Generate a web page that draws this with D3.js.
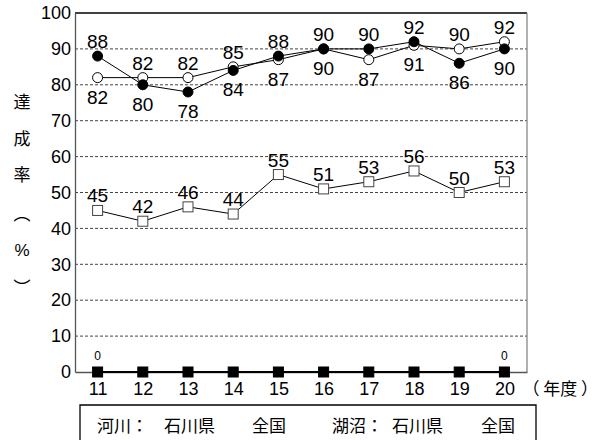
<!DOCTYPE html>
<html>
<head>
<meta charset="utf-8">
<script src="https://cdn.jsdelivr.net/npm/d3@7"></script>
<style>
  body { margin: 0; background: #fff; }
  svg text { font-family: "Liberation Sans", Arial, sans-serif; }
  .cjk { font-family: "Noto Sans CJK JP", sans-serif; }
</style>
</head>
<body>
<div id="chart"></div>
<script>
// years (Heisei)
const years = ["11", "12", "13", "14", "15", "16", "17", "18", "19", "20"];
// 河川 石川県 (filled circle)
const riverPref = [88, 80, 78, 84, 88, 90, 90, 92, 86, 90];
// 河川 全国 (open circle)
const riverNation = [82, 82, 82, 85, 87, 90, 87, 91, 90, 92];
// 湖沼 (open square)
const lakePref = [45, 42, 46, 44, 55, 51, 53, 56, 50, 53];
// 湖沼 (filled square)
const lakeNation = [0, 0, 0, 0, 0, 0, 0, 0, 0, 0];
// label side: 1 = above, -1 = below
const riverPrefPos = [1, -1, -1, -1, 1, 1, 1, 1, -1, -1];
const riverNationPos = [-1, 1, 1, 1, -1, -1, -1, -1, 1, 1];
const yTicks = [0, 10, 20, 30, 40, 50, 60, 70, 80, 90, 100];
const legendItems = ["河川：", "石川県", "全国", "湖沼：", "石川県", "全国"];

const width = 602, height = 440;
const margin = {left: 75, right: 75, top: 13, bottom: 68};

const svg = d3.select("#chart").append("svg")
    .attr("width", width)
    .attr("height", height);

const x = d3.scalePoint()
    .domain(years)
    .range([margin.left, width - margin.right])
    .padding(0.5);
const y = d3.scaleLinear()
    .domain([0, 100])
    .range([height - margin.bottom, margin.top]);

// dotted grid
svg.append("g")
    .selectAll("line")
    .data(yTicks.filter(d => d > 0 && d < 100))
    .join("line")
    .attr("x1", margin.left)
    .attr("x2", width - margin.right)
    .attr("y1", d => y(d))
    .attr("y2", d => y(d))
    .attr("stroke", "#444")
    .attr("stroke-width", 1)
    .attr("stroke-dasharray", "3,2");

// plot frame
svg.append("line")
    .attr("x1", margin.left).attr("x2", width - margin.right)
    .attr("y1", y(100)).attr("y2", y(100))
    .attr("stroke", "#000").attr("stroke-width", 1.3);
svg.append("line")
    .attr("x1", width - margin.right).attr("x2", width - margin.right)
    .attr("y1", y(100)).attr("y2", y(0))
    .attr("stroke", "#888").attr("stroke-width", 1.3);

// y axis
const yAxis = svg.append("g")
    .attr("transform", `translate(${margin.left},0)`)
    .call(d3.axisLeft(y).tickValues(yTicks).tickSize(0).tickPadding(4));
yAxis.select(".domain").attr("stroke", "#555").attr("stroke-width", 1.3);
yAxis.selectAll("text")
    .style("font-size", "18px")
    .style("font-family", "Liberation Sans, Arial, sans-serif")
    .attr("fill", "#000");

// x axis
const xAxis = svg.append("g")
    .attr("transform", `translate(0,${y(0)})`)
    .call(d3.axisBottom(x).tickSize(0).tickPadding(10));
xAxis.select(".domain").attr("stroke", "#555").attr("stroke-width", 1.3);
xAxis.selectAll("text")
    .style("font-size", "18px")
    .style("font-family", "Liberation Sans, Arial, sans-serif")
    .attr("fill", "#000");

svg.append("text")
    .attr("class", "cjk")
    .attr("x", x("20") + 18)
    .attr("y", y(0) + 23)
    .style("font-size", "17px")
    .text("（ 年度 ）");

// y axis title, vertical
const yTitle = ["達", "成", "率", "︵", "%", "︶"];
const yTitleY = [100, 137, 173, 212, 250, 286];
svg.append("g")
    .selectAll("text")
    .data(yTitle)
    .join("text")
    .attr("class", (d, i) => i === 4 ? null : "cjk")
    .attr("x", 22)
    .attr("y", (d, i) => yTitleY[i])
    .attr("text-anchor", "middle")
    .attr("dominant-baseline", "central")
    .style("font-size", "17px")
    .text(d => d);

const line = d3.line()
    .x((d, i) => x(years[i]))
    .y(d => y(d));

function drawSeries(values, shape, filled) {
    svg.append("path")
        .datum(values)
        .attr("d", line)
        .attr("fill", "none")
        .attr("stroke", "#000")
        .attr("stroke-width", shape === "sq" && filled ? 2 : 1);
    const g = svg.append("g");
    if (shape === "circle") {
        g.selectAll("circle")
            .data(values)
            .join("circle")
            .attr("cx", (d, i) => x(years[i]))
            .attr("cy", d => y(d))
            .attr("r", 5)
            .attr("fill", filled ? "#000" : "#fff")
            .attr("stroke", "#000")
            .attr("stroke-width", 1);
    } else {
        g.selectAll("rect")
            .data(values)
            .join("rect")
            .attr("x", (d, i) => x(years[i]) - 5)
            .attr("y", d => y(d) - 5)
            .attr("width", 10)
            .attr("height", 10)
            .attr("fill", filled ? "#000" : "#fff")
            .attr("stroke", filled ? "#000" : "#444")
            .attr("stroke-width", 1);
    }
}

function drawLabels(values, pos, size) {
    svg.append("g")
        .selectAll("text")
        .data(values)
        .join("text")
        .attr("x", (d, i) => x(years[i]))
        .attr("y", (d, i) => pos[i] > 0 ? y(d) - 8 : y(d) + 26)
        .attr("text-anchor", "middle")
        .style("font-size", size + "px")
        .text(d => d);
}

drawSeries(lakeNation, "sq", true);
drawSeries(lakePref, "sq", false);
drawSeries(riverNation, "circle", false);
drawSeries(riverPref, "circle", true);

drawLabels(riverPref, riverPrefPos, 19);
drawLabels(riverNation, riverNationPos, 19);
drawLabels(lakePref, lakePref.map(() => 1), 19);

// small zero labels at the ends only
svg.append("g")
    .selectAll("text")
    .data([0, 9])
    .join("text")
    .attr("x", i => x(years[i]))
    .attr("y", i => y(lakeNation[i]) - 12)
    .attr("text-anchor", "middle")
    .style("font-size", "12px")
    .text(i => lakeNation[i]);

// legend box
const legend = svg.append("g");
legend.append("path")
    .attr("d", "M80,440 V405 H536 V440")
    .attr("fill", "none")
    .attr("stroke", "#000")
    .attr("stroke-width", 1.3);
const legendX = [97, 164, 252, 332, 392, 481];
legend.selectAll("text")
    .data(legendItems)
    .join("text")
    .attr("class", "cjk")
    .attr("x", (d, i) => legendX[i])
    .attr("y", 432)
    .style("font-size", "17px")
    .text(d => d);
</script>
</body>
</html>
